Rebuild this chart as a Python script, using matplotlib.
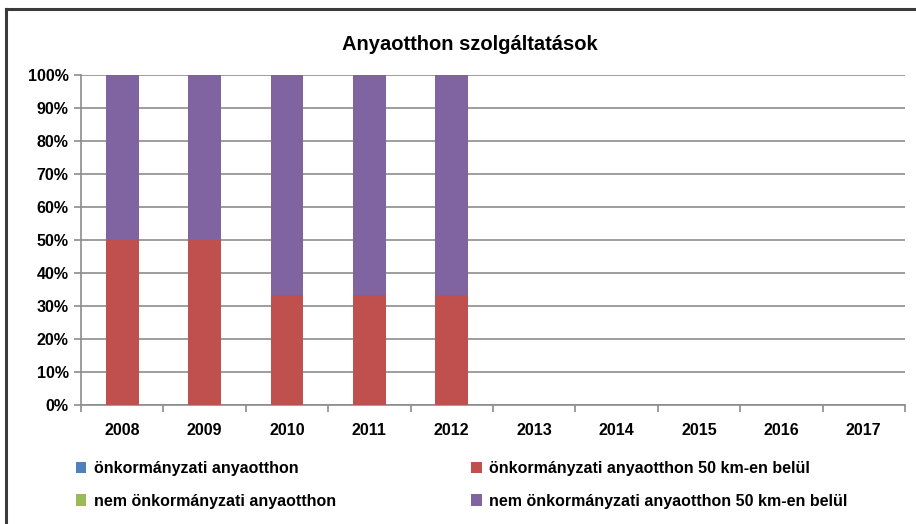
import matplotlib
matplotlib.use("Agg")
import matplotlib.pyplot as plt
from matplotlib.patches import Patch
from matplotlib.lines import Line2D
import numpy as np

plt.rcParams['font.family'] = ['Liberation Sans', 'DejaVu Sans']
plt.rcParams['font.weight'] = 'bold'

years = ['2008', '2009', '2010', '2011', '2012', '2013', '2014', '2015', '2016', '2017']
onk = [0, 0, 0, 0, 0, 0, 0, 0, 0, 0]
onk50 = [50, 50, 33.33, 33.33, 33.33, 0, 0, 0, 0, 0]
nem = [0, 0, 0, 0, 0, 0, 0, 0, 0, 0]
nem50 = [50, 50, 66.67, 66.67, 66.67, 0, 0, 0, 0, 0]
series_names = ['önkormányzati anyaotthon', 'önkormányzati anyaotthon 50 km-en belül',
                'nem önkormányzati anyaotthon', 'nem önkormányzati anyaotthon 50 km-en belül']
colors = ['#4F81BD', '#C0504D', '#9BBB59', '#8064A2']

W, H = 916, 524
fig = plt.figure(figsize=(W/100, H/100), dpi=100)
ax = fig.add_axes([81/W, (H-405)/H, (905-81)/W, (405-75)/H])

x = np.arange(len(years))
bottom = np.zeros(len(years))
for vals, c in zip([onk, onk50, nem, nem50], colors):
    ax.bar(x, vals, width=0.4, bottom=bottom, color=c, zorder=3)
    bottom += np.array(vals)

ax.set_xlim(-0.5, len(years) - 0.5)
ax.set_ylim(0, 100)
ax.set_yticks(np.arange(0, 101, 10))
ax.set_yticklabels([f'{v}%' for v in range(0, 101, 10)])
ax.yaxis.grid(True, color='#8C8C8C', linewidth=1.2, zorder=0)
ax.set_xticks(x)
ax.set_xticklabels(years)
ax.set_xticks(np.arange(-0.5, len(years)), minor=True)
ax.tick_params(axis='x', which='major', length=0, pad=13, labelsize=11.5)
ax.tick_params(axis='x', which='minor', length=5, color='#8C8C8C', width=1.2)
ax.tick_params(axis='y', length=5, color='#8C8C8C', width=1.2, labelsize=11.5, pad=4)
for s in ['top', 'right']:
    ax.spines[s].set_visible(False)
for s in ['left', 'bottom']:
    ax.spines[s].set_color('#8C8C8C')
    ax.spines[s].set_linewidth(1.2)

fig.text(470/W, 1 - 45/H, 'Anyaotthon szolgáltatások', ha='center', va='center',
         fontsize=14.5, fontweight='bold')

order = [0, 2, 1, 3]
handles = [Patch(facecolor=colors[i], edgecolor='none') for i in order]
labels = [series_names[i] for i in order]
leg = fig.legend(handles, labels, ncol=2, loc='upper left',
                 bbox_to_anchor=(76/W, 1 - 461/H), frameon=False, borderpad=0,
                 borderaxespad=0,
                 fontsize=11.5, handlelength=0.65, handleheight=0.7,
                 handletextpad=0.45, columnspacing=8.5, labelspacing=1.1)

# outer frame
fig.add_artist(Line2D([6/W, 6/W], [0, 1 - 9/H], color='#3A3A3A', linewidth=2.2))
fig.add_artist(Line2D([6/W, 1], [1 - 9/H, 1 - 9/H], color='#3A3A3A', linewidth=2.2))

fig.savefig('out.png', dpi=100)
